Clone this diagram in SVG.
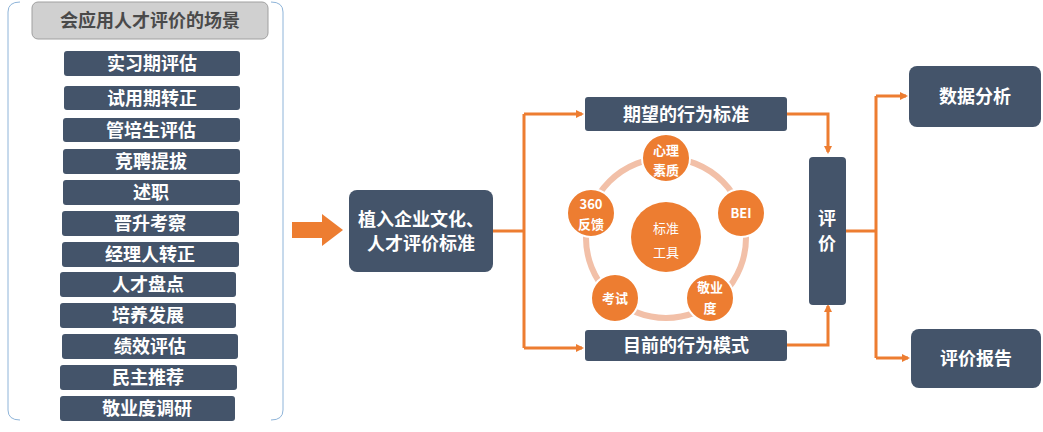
<svg xmlns="http://www.w3.org/2000/svg" width="1043" height="432" viewBox="0 0 1043 432">
<style>
.n{fill:#44546a}
.t{fill:#fff;font-family:"Noto Sans CJK SC","Liberation Sans",sans-serif;font-weight:bold;text-anchor:middle}
.l{font-size:18px}
.c{fill:#ed7d31}
.ct{fill:#fff;font-family:"Noto Sans CJK SC",sans-serif;font-weight:bold;text-anchor:middle;font-size:13px}
.o{stroke:#ed7d31;stroke-width:3;fill:none}
</style>
<defs><marker id="a" markerWidth="8" markerHeight="8" refX="6" refY="4" orient="auto" markerUnits="userSpaceOnUse" viewBox="0 0 8 8"><path d="M0,0L8,4L0,8z" fill="#ed7d31"/></marker></defs>
<rect width="1043" height="432" fill="#fff"/>
<path d="M20,2 Q8,2 8,12 V410 Q8,420 20,420 M271,2 Q283,2 283,12 V410 Q283,420 271,420" fill="none" stroke="#8eb4d9" stroke-width="1"/>
<g id="header"><rect x="32" y="2" width="236" height="37" rx="6" fill="#d0d0d0" stroke="#a0a0a0"/><text x="150" y="27" class="t" style="fill:#4a4a4a" font-size="18">会应用人才评价的场景</text></g>
<g id="list">
<g id="s1"><rect x="64" y="51" width="176" height="25" rx="3" class="n"/><text x="152" y="70" class="t l">实习期评估</text></g>
<g id="s2"><rect x="64" y="86" width="176" height="24" rx="3" class="n"/><text x="152" y="105" class="t l">试用期转正</text></g>
<g id="s3"><rect x="63" y="118" width="177" height="24" rx="3" class="n"/><text x="151" y="137" class="t l">管培生评估</text></g>
<g id="s4"><rect x="63" y="149" width="177" height="25" rx="3" class="n"/><text x="151" y="168" class="t l">竞聘提拔</text></g>
<g id="s5"><rect x="63" y="180" width="177" height="25" rx="3" class="n"/><text x="151" y="199" class="t l">述职</text></g>
<g id="s6"><rect x="62" y="211" width="177" height="25" rx="3" class="n"/><text x="150" y="230" class="t l">晋升考察</text></g>
<g id="s7"><rect x="62" y="242" width="177" height="25" rx="3" class="n"/><text x="150" y="261" class="t l">经理人转正</text></g>
<g id="s8"><rect x="60" y="272" width="176" height="25" rx="3" class="n"/><text x="148" y="291" class="t l">人才盘点</text></g>
<g id="s9"><rect x="60" y="303" width="176" height="25" rx="3" class="n"/><text x="148" y="322" class="t l">培养发展</text></g>
<g id="s10"><rect x="62" y="334" width="176" height="25" rx="3" class="n"/><text x="150" y="353" class="t l">绩效评估</text></g>
<g id="s11"><rect x="60" y="365" width="177" height="25" rx="3" class="n"/><text x="148" y="384" class="t l">民主推荐</text></g>
<g id="s12"><rect x="60" y="396" width="175" height="25" rx="3" class="n"/><text x="147" y="415" class="t l">敬业度调研</text></g>
</g>
<g id="bigarrow"><path d="M292,222H322V214L343,230L322,246V238H292z" fill="#ed7d31"/></g>
<g id="embed"><rect x="349" y="190" width="144" height="82" rx="8" class="n"/><text x="421" y="226" class="t l">植入企业文化、</text><text x="421" y="250" class="t l">人才评价标准</text></g>
<g id="connectors">
<path class="o" d="M493,231H524M524,114V348M524,114H582" marker-end="url(#a)"/>
<path class="o" d="M524,348H582" marker-end="url(#a)"/>
<path class="o" d="M787,114H828V152" marker-end="url(#a)"/>
<path class="o" d="M787,345H828V306" marker-end="url(#a)"/>
<path class="o" d="M846,231H876M876,96V358M876,96H906" marker-end="url(#a)"/>
<path class="o" d="M876,358H908" marker-end="url(#a)"/>
</g>
<g id="expect"><rect x="585" y="97" width="202" height="34" rx="3" class="n"/><text x="686" y="121" class="t l">期望的行为标准</text></g>
<g id="current"><rect x="585" y="330" width="202" height="31" rx="3" class="n"/><text x="686" y="352" class="t l">目前的行为模式</text></g>
<g id="eval"><rect x="809" y="157" width="37" height="148" rx="4" class="n"/><text x="827" y="225" class="t l">评</text><text x="827" y="250" class="t l">价</text></g>
<g id="data"><rect x="909" y="66" width="132" height="61" rx="8" class="n"/><text x="975" y="103" class="t l">数据分析</text></g>
<g id="report"><rect x="911" y="329" width="130" height="59" rx="8" class="n"/><text x="976" y="365" class="t l">评价报告</text></g>
<g id="tools">
<circle cx="666" cy="238" r="80" fill="none" stroke="#f2c0a8" stroke-width="6"/>
<g id="center"><circle cx="666" cy="237" r="35" class="c"/><text x="666" y="233" class="ct" font-size="16" style="font-weight:normal">标准</text><text x="666" y="257" class="ct" font-size="16" style="font-weight:normal">工具</text></g>
<g id="t1"><circle cx="666" cy="158" r="24" class="c" stroke="#fff" stroke-width="2"/><text x="666" y="155" class="ct">心理</text><text x="666" y="175" class="ct">素质</text></g>
<g id="t2"><circle cx="741" cy="213" r="24" class="c" stroke="#fff" stroke-width="2"/><text x="741" y="218" class="ct">BEI</text></g>
<g id="t3"><circle cx="710" cy="298" r="24" class="c" stroke="#fff" stroke-width="2"/><text x="710" y="292" class="ct">敬业</text><text x="710" y="313" class="ct">度</text></g>
<g id="t4"><circle cx="615" cy="298" r="24" class="c" stroke="#fff" stroke-width="2"/><text x="615" y="303" class="ct">考试</text></g>
<g id="t5"><circle cx="591" cy="213" r="24" class="c" stroke="#fff" stroke-width="2"/><text x="591" y="209" class="ct">360</text><text x="591" y="229" class="ct">反馈</text></g>
</g>
</svg>
